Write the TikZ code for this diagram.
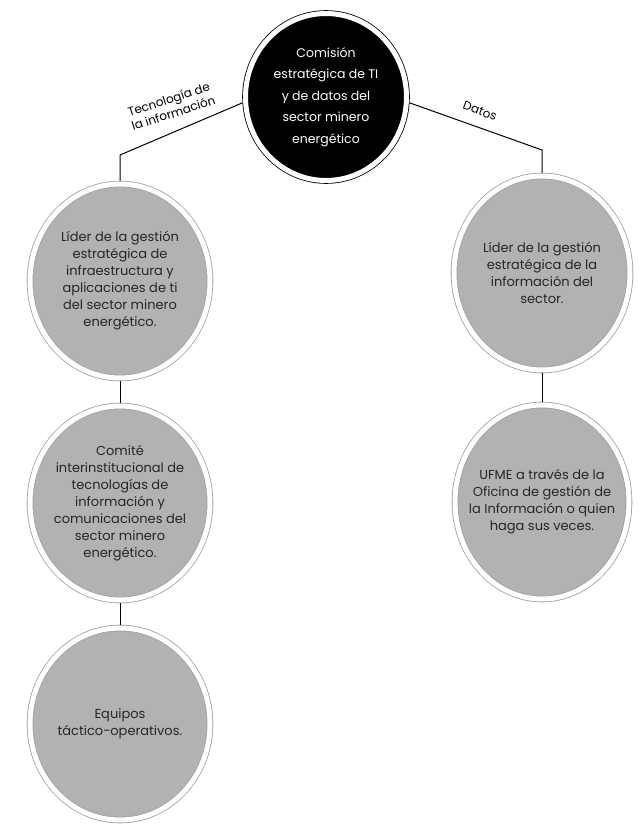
\documentclass[tikz,border=0pt]{standalone}
\usepackage{fontspec}
\setmainfont{Poppins}
\usepackage{tikz}
\usetikzlibrary{shapes.geometric}
\definecolor{discgray}{HTML}{B2B2B2}
\definecolor{ringgray}{HTML}{A0A0A0}
\definecolor{txtgray}{HTML}{262626}
\tikzstyle{disc} = [ellipse, draw=ringgray, line width=0.8pt, double=white, double distance=5pt, fill=discgray, text=txtgray, inner ysep=0pt, inner xsep=-22pt, outer sep=3.3pt, align=center, font=\fontsize{13}{17}\selectfont, minimum width=180pt, minimum height=194pt]
\tikzstyle{topdisc} = [disc, draw=black, fill=black, text=white, inner xsep=-12pt, minimum width=161pt, minimum height=167pt, font=\fontsize{12.5}{21.5}\selectfont]
\tikzstyle{link} = [line width=1pt]
\tikzstyle{branch} = [font=\fontsize{12}{14.5}\selectfont, align=center, inner sep=1pt]

\begin{document}
\begin{tikzpicture}[yscale=-1]
			\useasboundingbox (0pt,0pt) rectangle (638pt,825pt);
			\node[topdisc] (comision) at (326pt,97pt) {Comisión\\estratégica de TI\\y de datos del\\sector minero\\energético};
			\node[disc] (liderti) at (120pt,281pt) {Líder de la gestión\\estratégica de\\infraestructura y\\aplicaciones de ti\\del sector minero\\energético.};
			\node[disc] (comite) at (120pt,503pt) {Comité\\interinstitucional de\\tecnologías de\\información y\\comunicaciones del\\sector minero\\energético.};
			\node[disc, minimum height=192pt] (equipos) at (120pt,724pt) {Equipos\\táctico-operativos.};
			\node[disc, minimum width=176pt] (liderdatos) at (542pt,273pt) {Líder de la gestión\\estratégica de la\\información del\\sector.};
			\node[disc, minimum width=174pt] (ufme) at (542pt,502pt) {UFME a través de la\\Oficina de gestión de\\la Información o quien\\haga sus veces.};
			\coordinate (tibend) at (120pt,155pt);
			\coordinate (datosbend) at (542pt,150pt);
			\draw[link] (comision.184) -- (tibend) -- (liderti);
			\draw[link] (comision.356) -- (datosbend) -- (liderdatos);
			\draw[link] (liderti) -- (comite);
			\draw[link] (comite) -- (equipos);
			\draw[link] (liderdatos) -- (ufme);
			\node[branch, rotate=18] (tilabel) at (171pt,106pt) {Tecnología de\\la información};
			\node[branch, rotate=-20] (datoslabel) at (480pt,111pt) {Datos};
		\end{tikzpicture}
\end{document}
